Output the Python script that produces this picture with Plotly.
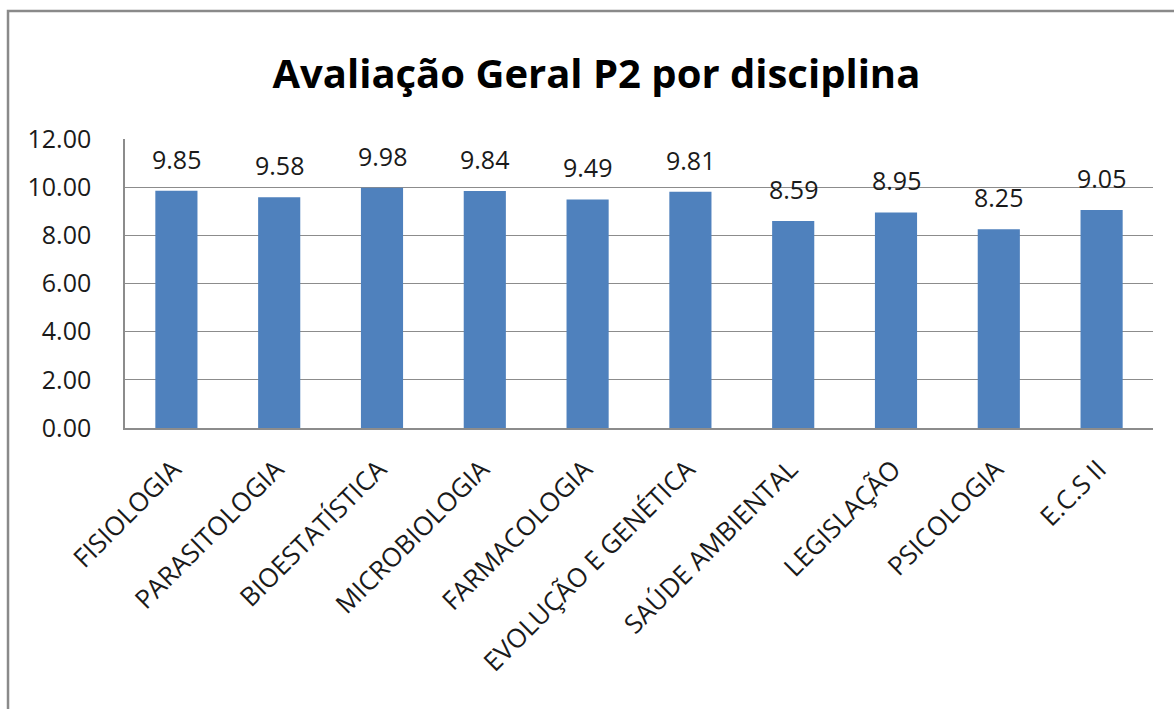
import plotly.graph_objects as go

disciplinas = ["FISIOLOGIA", "PARASITOLOGIA", "BIOESTATÍSTICA", "MICROBIOLOGIA",
               "FARMACOLOGIA", "EVOLUÇÃO E GENÉTICA", "SAÚDE AMBIENTAL",
               "LEGISLAÇÃO", "PSICOLOGIA", "E.C.S II"]
medias = [9.85, 9.58, 9.98, 9.84, 9.49, 9.81, 8.59, 8.95, 8.25, 9.05]
y_ticks = [0, 2, 4, 6, 8, 10, 12]

FONT = "Open Sans"
GRID = "#8c8c8c"

fig = go.Figure()
fig.add_trace(go.Bar(
    x=disciplinas, y=medias,
    marker=dict(color="#4F81BD", line=dict(width=0)),
    width=0.41,
    hoverinfo="x+y",
))

# value labels above each bar
for d, v in zip(disciplinas, medias):
    fig.add_annotation(x=d, y=v, text=f"{v:.2f}", showarrow=False,
                       yanchor="bottom", yshift=13,
                       font=dict(family=FONT, size=25, color="#1a1a1a"))

# outer chart frame
fig.add_shape(type="rect", xref="paper", yref="paper",
              x0=-0.1138, x1=1.2, y0=-1.5, y1=1.443,
              line=dict(color="#8a8a8a", width=2.5), fillcolor="rgba(0,0,0,0)",
              layer="below")

fig.update_layout(
    width=1174, height=709,
    margin=dict(l=125, r=21, t=139, b=281),
    paper_bgcolor="white", plot_bgcolor="white",
    showlegend=False,
    title=dict(text="<b>Avaliação Geral P2 por disciplina</b>",
               x=0.508, xanchor="center", y=0.895, yanchor="middle",
               font=dict(family=FONT, size=40, color="black")),
    font=dict(family=FONT, color="#1a1a1a"),
)
fig.update_xaxes(
    tickangle=-45, tickfont=dict(family=FONT, size=26, color="#1a1a1a"),
    showline=True, linecolor=GRID, linewidth=1.5, ticks="",
    ticklabelstandoff=14, ticklabelshift=-3,
    showgrid=False,
)
fig.update_yaxes(
    range=[0, 12], tickvals=y_ticks, ticktext=[f"{t:.2f}" for t in y_ticks],
    tickfont=dict(family=FONT, size=25, color="#1a1a1a"),
    showgrid=True, gridcolor=GRID, gridwidth=1.2,
    showline=True, linecolor=GRID, linewidth=1.5,
    ticks="", ticklabelstandoff=27, zeroline=False,
)

fig.write_html("out.html")
